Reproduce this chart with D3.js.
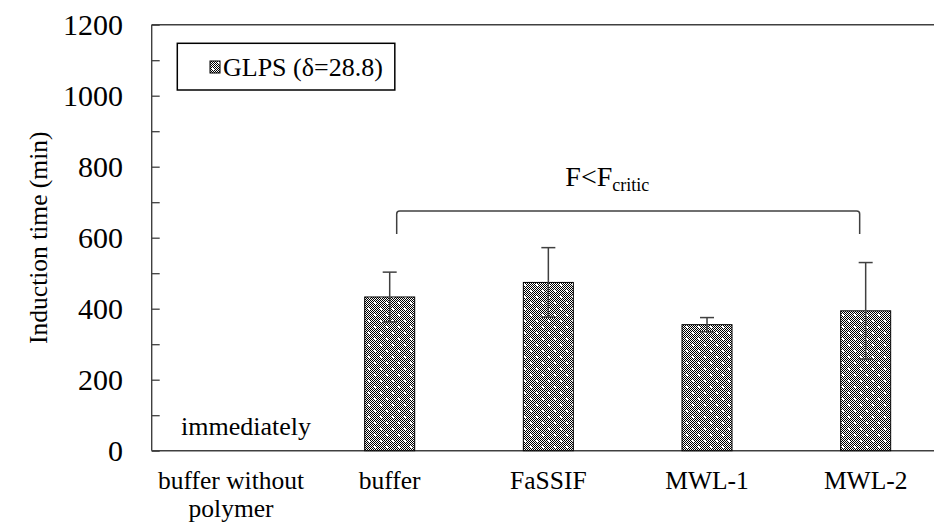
<!DOCTYPE html>
<html>
<head>
<meta charset="utf-8">
<script src="https://cdn.jsdelivr.net/npm/d3@7/dist/d3.min.js"></script>
<style>
  html, body { margin: 0; padding: 0; background: #fff; }
  svg { display: block; }
</style>
</head>
<body>
<svg id="chart" width="934" height="525"></svg>
<script>
// Media and induction times (min), GLPS (δ=28.8)
const categories = ["buffer without polymer", "buffer", "FaSSIF", "MWL-1", "MWL-2"];
const categoryLabelLines = [["buffer without", "polymer"], ["buffer"], ["FaSSIF"], ["MWL-1"], ["MWL-2"]];
const inductionTime = [null, 433, 474, 355, 394];
const inductionSD = [null, 70, 98, 20, 136];
const yTicksMajor = [0, 200, 400, 600, 800, 1000, 1200];
const yTicksMinor = [0, 100, 200, 300, 400, 500, 600, 700, 800, 900, 1000, 1100, 1200];
const seriesName = "GLPS (δ=28.8)";
const noPolymerNote = "immediately";
const bracketValue = 675;
const bracketFrom = "buffer";
const bracketTo = "MWL-2";

const serif = '"Liberation Serif"';
const svg = d3.select("#chart");
const axisColor = "#404040";

const plotL = 151.7, plotR = 945, plotT = 24.7, plotB = 450.7;

const x = d3.scaleBand().domain(categories).range([plotL, plotR]).padding(0);
const y = d3.scaleLinear().domain([0, 1200]).range([plotB, plotT]);
const barW = 50;

// fine checker fill with sparse white spots
const defs = svg.append("defs");
const pat = defs.append("pattern")
  .attr("id", "dots").attr("patternUnits", "userSpaceOnUse")
  .attr("width", 12).attr("height", 12);
pat.append("rect").attr("width", 12).attr("height", 12).attr("fill", "#fff");
for (let i = 0; i < 12; i++) {
  for (let j = 0; j < 12; j++) {
    if ((i + j) % 2 === 0) {
      pat.append("rect").attr("x", i).attr("y", j).attr("width", 1).attr("height", 1).attr("fill", "#000");
    }
  }
}
[[2, 2], [8, 8]].forEach(([px, py]) => {
  pat.append("rect").attr("x", px).attr("y", py).attr("width", 2).attr("height", 2).attr("fill", "#fff");
});

// frame: top line and axes
svg.append("line").attr("x1", plotL).attr("x2", plotR).attr("y1", plotT).attr("y2", plotT)
  .attr("stroke", axisColor).attr("stroke-width", 1.4);

// y axis with inward ticks every 100, labels every 200
const yAxis = svg.append("g").attr("transform", `translate(${plotL},0)`)
  .call(d3.axisRight(y).tickValues(yTicksMinor).tickSize(8).tickFormat(""));
yAxis.select(".domain").remove();
yAxis.selectAll(".tick line").attr("stroke", axisColor).attr("stroke-width", 1.3);
svg.append("line").attr("x1", plotL).attr("x2", plotL).attr("y1", plotT).attr("y2", plotB)
  .attr("stroke", axisColor).attr("stroke-width", 1.4);

svg.append("g").selectAll("text").data(yTicksMajor).join("text")
  .attr("x", 123).attr("y", d => y(d)).attr("dy", "0.35em")
  .attr("text-anchor", "end").attr("font-size", 30).attr("fill", "#000")
  .style("font-family", serif)
  .text(d => d);

// x axis
svg.append("line").attr("x1", plotL).attr("x2", plotR).attr("y1", plotB).attr("y2", plotB)
  .attr("stroke", axisColor).attr("stroke-width", 1.4);

const xl = svg.append("g").selectAll("text").data(categories).join("text")
  .attr("text-anchor", "middle").attr("font-size", 25.5).attr("fill", "#000")
  .style("font-family", serif)
  .attr("transform", d => `translate(${x(d) + x.bandwidth() / 2},489)`);
xl.each(function(d, i) {
  const t = d3.select(this);
  categoryLabelLines[i].forEach((line, k) => {
    t.append("tspan").attr("x", 0).attr("y", k * 28).text(line);
  });
});

// y axis title
svg.append("text")
  .attr("transform", `translate(38,${(plotT + plotB) / 2}) rotate(-90)`)
  .attr("text-anchor", "middle").attr("dy", "0.35em")
  .attr("font-size", 25.5).attr("fill", "#000").style("font-family", serif)
  .text("Induction time (min)");

// bars
const rows = categories.map((c, i) => ({ c, v: inductionTime[i], sd: inductionSD[i] }))
  .filter(r => r.v !== null);

svg.append("g").selectAll("rect").data(rows).join("rect")
  .attr("x", d => x(d.c) + x.bandwidth() / 2 - barW / 2)
  .attr("width", barW)
  .attr("y", d => y(d.v))
  .attr("height", d => y(0) - y(d.v))
  .attr("fill", "url(#dots)")
  .attr("stroke", "#000").attr("stroke-width", 1);

// error bars
const eb = svg.append("g").attr("stroke", axisColor).attr("stroke-width", 1.5);
rows.forEach(d => {
  const cx = x(d.c) + x.bandwidth() / 2;
  eb.append("line").attr("x1", cx).attr("x2", cx).attr("y1", y(d.v + d.sd)).attr("y2", y(d.v - d.sd));
  [d.v + d.sd, d.v - d.sd].forEach(v => {
    eb.append("line").attr("x1", cx - 7).attr("x2", cx + 7).attr("y1", y(v)).attr("y2", y(v));
  });
});

// "immediately" note in the first category
svg.append("text")
  .attr("x", x(categories[0]) + x.bandwidth() / 2 + 15).attr("y", 435)
  .attr("text-anchor", "middle").attr("font-size", 26).attr("fill", "#000")
  .style("font-family", serif)
  .text(noPolymerNote);

// significance bracket
const bx1 = x(bracketFrom) + x.bandwidth() / 2 + 7;
const bx2 = x(bracketTo) + x.bandwidth() / 2 - 6;
const by = y(bracketValue);
const drop = 23;
svg.append("path")
  .attr("d", `M${bx1},${by + drop} L${bx1},${by + 3} Q${bx1},${by} ${bx1 + 3},${by} L${bx2 - 3},${by} Q${bx2},${by} ${bx2},${by + 3} L${bx2},${by + drop}`)
  .attr("fill", "none").attr("stroke", axisColor).attr("stroke-width", 1.5);

const ft = svg.append("text").attr("x", x("FaSSIF") + x.bandwidth() / 2 + 17).attr("y", 186)
  .attr("text-anchor", "start").attr("font-size", 28).attr("fill", "#000")
  .style("font-family", serif);
ft.append("tspan").text("F<F");
ft.append("tspan").attr("font-size", 18).attr("dy", 5).text("critic");

// legend
const lg = svg.append("g");
const lgText = lg.append("text").attr("x", 223).attr("y", 76)
  .attr("font-size", 26).attr("fill", "#000").style("font-family", serif).text(seriesName);
const tw = lgText.node().getComputedTextLength();
lg.insert("rect", "text").attr("x", 177.3).attr("y", 43.3)
  .attr("width", 223 + tw + 12 - 177.3).attr("height", 46.7)
  .attr("fill", "#fff").attr("stroke", "#000").attr("stroke-width", 1.5);
lg.append("rect").attr("x", 210).attr("y", 61).attr("width", 10).attr("height", 12)
  .attr("fill", "url(#dots)").attr("stroke", "#000").attr("stroke-width", 1);
</script>
</body>
</html>
